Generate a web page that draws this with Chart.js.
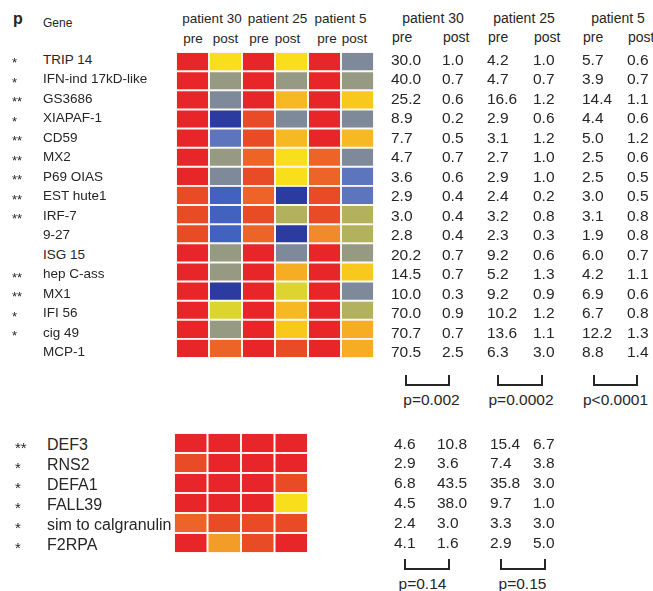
<!DOCTYPE html>
<html>
<head>
<meta charset="utf-8">
<title>Interferon genes pre / post</title>
<script src="https://cdn.jsdelivr.net/npm/chart.js@4.4.1/dist/chart.umd.min.js"></script>
<style>
  html, body { margin: 0; padding: 0; background: #fff; }
  #stage { position: relative; width: 653px; height: 591px; overflow: hidden; }
  .txt {
    position: absolute; line-height: 20px; white-space: nowrap;
    font-family: 'Liberation Sans', Arial, Helvetica, sans-serif; color: #262626;
  }
  .heat { position: absolute; }
  .bracket {
    position: absolute; box-sizing: border-box;
    border: 2px solid #262626; border-top: none;
  }
</style>
</head>
<body>
<div id="stage">
  <div class="heat" style="left:176px; top:52px; width:198px; height:306px;">
    <canvas id="ifnChart" width="198" height="306"></canvas>
  </div>
  <div class="heat" style="left:174px; top:433px; width:134px; height:120px;">
    <canvas id="defChart" width="134" height="120"></canvas>
  </div>
</div>
<script>
// 数据：上半部分（干扰素相关基因）
const genes = ['TRIP 14', 'IFN-ind 17kD-like', 'GS3686', 'XIAPAF-1', 'CD59', 'MX2', 'P69 OIAS', 'EST hute1',
               'IRF-7', '9-27', 'ISG 15', 'hep C-ass', 'MX1', 'IFI 56', 'cig 49', 'MCP-1'];
const geneStars = ['*', '*', '**', '*', '**', '**', '**', '**', '**', '', '', '**', '**', '*', '*', ''];
const patients = ['patient 30', 'patient 25', 'patient 5'];
const phases = ['pre', 'post'];
const p30Pre  = [30.0, 40.0, 25.2, 8.9, 7.7, 4.7, 3.6, 2.9, 3.0, 2.8, 20.2, 14.5, 10.0, 70.0, 70.7, 70.5];
const p30Post = [1.0, 0.7, 0.6, 0.2, 0.5, 0.7, 0.6, 0.4, 0.4, 0.4, 0.7, 0.7, 0.3, 0.9, 0.7, 2.5];
const p25Pre  = [4.2, 4.7, 16.6, 2.9, 3.1, 2.7, 2.9, 2.4, 3.2, 2.3, 9.2, 5.2, 9.2, 10.2, 13.6, 6.3];
const p25Post = [1.0, 0.7, 1.2, 0.6, 1.2, 1.0, 1.0, 0.2, 0.8, 0.3, 0.6, 1.3, 0.9, 1.2, 1.1, 3.0];
const p5Pre   = [5.7, 3.9, 14.4, 4.4, 5.0, 2.5, 2.5, 3.0, 3.1, 1.9, 6.0, 4.2, 6.9, 6.7, 12.2, 8.8];
const p5Post  = [0.6, 0.7, 1.1, 0.6, 1.2, 0.6, 0.5, 0.5, 0.8, 0.8, 0.7, 1.1, 0.6, 0.8, 1.3, 1.4];
const pValues = ['p=0.002', 'p=0.0002', 'p<0.0001'];

// 数据：下半部分（防御素等）
const defGenes = ['DEF3', 'RNS2', 'DEFA1', 'FALL39', 'sim to calgranulin', 'F2RPA'];
const defStars = ['**', '*', '*', '*', '*', '*'];
const d30Pre  = [4.6, 2.9, 6.8, 4.5, 2.4, 4.1];
const d30Post = [10.8, 3.6, 43.5, 38.0, 3.0, 1.6];
const d25Pre  = [15.4, 7.4, 35.8, 9.7, 3.3, 2.9];
const d25Post = [6.7, 3.8, 3.0, 1.0, 3.0, 5.0];
const defPValues = ['p=0.14', 'p=0.15'];

// 颜色梯度：数值越高越红，越低越蓝
const colourSteps = [
  [3.5, '#e8262a'], [2.75, '#ea4b27'], [2.2, '#ed6428'], [1.8, '#f08a2a'],
  [1.5, '#f39d28'], [1.25, '#f5ae24'], [1.15, '#f6b923'], [1.05, '#f8c81d'],
  [0.95, '#f9df1b'], [0.85, '#dcd52f'], [0.75, '#b2b25e'], [0.65, '#979a82'],
  [0.55, '#7e8a9a'], [0.45, '#5d75bd'], [0.35, '#4262bf'], [0, '#2b3b9f']
];

function colourFor(v) {
  for (const [min, c] of colourSteps) {
    if (v >= min) return c;
  }
  return colourSteps[colourSteps.length - 1][1];
}

const stage = document.getElementById('stage');

function put(text, x, y, size, opts = {}) {
  const el = document.createElement('div');
  el.className = 'txt';
  el.textContent = text;
  el.style.left = x + 'px';
  el.style.top = (y - 10) + 'px';
  el.style.fontSize = size + 'px';
  if (opts.center) el.style.transform = 'translateX(-50%)';
  if (opts.bold) el.style.fontWeight = 'bold';
  stage.appendChild(el);
}

function bracket(x1, x2, top, bottom) {
  const el = document.createElement('div');
  el.className = 'bracket';
  el.style.left = x1 + 'px';
  el.style.top = top + 'px';
  el.style.width = (x2 - x1) + 'px';
  el.style.height = (bottom - top) + 'px';
  stage.appendChild(el);
}

// 热图：每一行是一个堆叠数据集，每一列是一个样本
function makeHeatmap(canvasId, rows, columns, labels) {
  const datasets = rows.map((gene, i) => ({
    label: gene,
    data: columns.map(() => 1),
    backgroundColor: columns.map(col => colourFor(col[i])),
    borderColor: '#fdf3ef',
    borderWidth: 1,
    borderSkipped: false,
    inflateAmount: 0,
    barPercentage: 1,
    categoryPercentage: 1
  }));
  return new Chart(document.getElementById(canvasId), {
    type: 'bar',
    data: { labels, datasets },
    options: {
      responsive: false,
      animation: false,
      layout: { padding: 0 },
      plugins: { legend: { display: false }, tooltip: { enabled: false } },
      scales: {
        x: { stacked: true, display: false },
        y: { stacked: true, display: false, reverse: true, min: 0, max: rows.length }
      }
    }
  });
}

const sampleLabels = [];
patients.forEach(p => phases.forEach(ph => sampleLabels.push(p + ' ' + ph)));

makeHeatmap('ifnChart', genes, [p30Pre, p30Post, p25Pre, p25Post, p5Pre, p5Post], sampleLabels);
makeHeatmap('defChart', defGenes, [d30Pre, d30Post, d25Pre, d25Post], sampleLabels.slice(0, 4));

// 表头
put('p', 13, 18.6, 16, { bold: true });
put('Gene', 43, 23, 12);
const heatHeadX = [212, 277.5, 340.5];
const heatPhaseX = [193, 225.5, 259, 287.5, 327, 354.5];
const tableHeadX = [433, 524, 618];
const colX = [391, 442, 487, 533, 582, 627];
patients.forEach((p, k) => {
  put(p, heatHeadX[k], 19, 13.5, { center: true });
  put(p, tableHeadX[k], 18, 14, { center: true });
  phases.forEach((ph, m) => {
    put(ph, heatPhaseX[k * 2 + m], 38.8, 13.5, { center: true });
    put(ph, colX[k * 2 + m] + 1, 36.5, 14);
  });
});

// 上半部分：基因名、星号、数值
const upperCols = [p30Pre, p30Post, p25Pre, p25Post, p5Pre, p5Post];
genes.forEach((g, i) => {
  const y = 59.5 + 19.5 * i;
  put(g, 43, y, 13.5);
  if (geneStars[i]) put(geneStars[i], 12, y + 3.5, 13);
  upperCols.forEach((col, j) => put(col[i].toFixed(1), colX[j], y, 15.5));
});

bracket(405, 450, 375, 386);
bracket(497, 543, 375, 386);
bracket(593, 638, 375, 386);
[431.5, 521, 615.5].forEach((x, k) => put(pValues[k], x, 400, 15.5, { center: true }));

// 下半部分
const lowerCols = [d30Pre, d30Post, d25Pre, d25Post];
const lowerX = [394, 437, 490, 533];
defGenes.forEach((g, i) => {
  put(g, 47, 445 + 20 * i, 16);
  put(defStars[i], 15, 445 + 20 * i + 3.4, 15);
  lowerCols.forEach((col, j) => put(col[i].toFixed(1), lowerX[j], 443.5 + 19.8 * i, 15.5));
});

bracket(404, 450, 559, 570);
bracket(500, 546, 559, 570);
[422.5, 522.5].forEach((x, k) => put(defPValues[k], x, 584, 15.5, { center: true }));
</script>
</body>
</html>
